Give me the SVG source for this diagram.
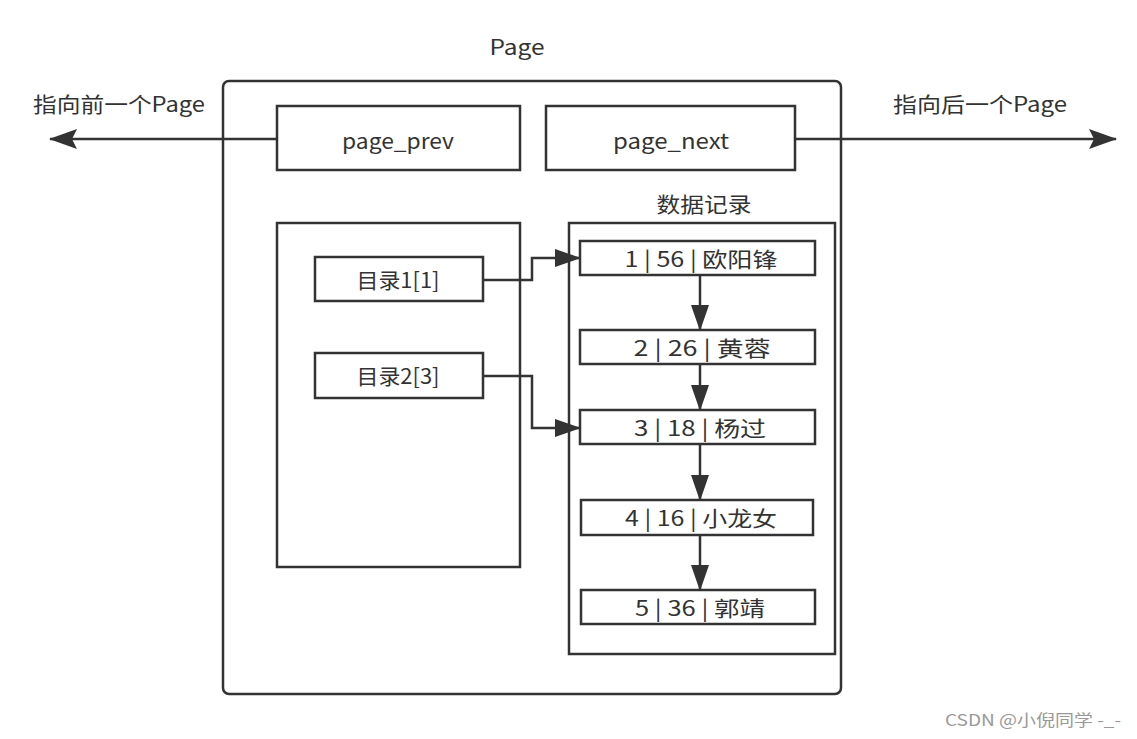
<svg xmlns="http://www.w3.org/2000/svg" width="1137" height="739" viewBox="0 0 1137 739">
<defs>
<style>
.box{fill:#fff;stroke:#333;stroke-width:2.5}
.t{font-family:"Noto Sans CJK SC","Noto Sans",sans-serif;font-size:21px;fill:#333;text-anchor:middle}
.ln{fill:none;stroke:#333;stroke-width:2.5}
.wm{font-family:"Noto Sans CJK SC","Noto Sans",sans-serif;font-size:16px;fill:#999;text-anchor:middle}
</style>
<marker id="big" markerWidth="28" markerHeight="20" refX="27" refY="10" orient="auto" markerUnits="userSpaceOnUse" viewBox="0 0 28 20">
<path d="M0,0 L28,10 L0,20 L5,10 Z" fill="#333"/>
</marker>
<marker id="dn" markerWidth="26" markerHeight="18" refX="25" refY="9" orient="auto" markerUnits="userSpaceOnUse" viewBox="0 0 26 18">
<path d="M0,0 L26,9 L0,18 Z" fill="#333"/>
</marker>
</defs>
<rect width="1137" height="739" fill="#fff"/>
<g id="page">
<rect class="box" x="223" y="81" width="618" height="613" rx="6"/>
<text class="t" x="517" y="55" textLength="55" lengthAdjust="spacingAndGlyphs">Page</text>
</g>
<g id="page_prev">
<rect class="box" x="277" y="106" width="243" height="64"/>
<text class="t" x="398" y="149" textLength="112" lengthAdjust="spacingAndGlyphs">page_prev</text>
</g>
<g id="page_next">
<rect class="box" x="546" y="106" width="249" height="64"/>
<text class="t" x="671" y="149" textLength="116" lengthAdjust="spacingAndGlyphs">page_next</text>
</g>
<g id="dir">
<rect class="box" x="277" y="223" width="243" height="344"/>
</g>
<g id="dir1">
<rect class="box" x="315" y="257" width="168" height="44"/>
<text class="t" x="398" y="288" textLength="83" lengthAdjust="spacingAndGlyphs">目录1[1]</text>
</g>
<g id="dir2">
<rect class="box" x="315" y="353" width="168" height="45"/>
<text class="t" x="398" y="384" textLength="83" lengthAdjust="spacingAndGlyphs">目录2[3]</text>
</g>
<g id="records">
<rect class="box" x="569" y="223" width="266" height="431"/>
<text class="t" x="704" y="212" textLength="95" lengthAdjust="spacingAndGlyphs">数据记录</text>
</g>
<g id="r1"><rect class="box" x="580" y="241" width="235" height="34"/><text class="t" x="701" y="267" textLength="153" lengthAdjust="spacingAndGlyphs">1 | 56 | 欧阳锋</text></g>
<g id="r2"><rect class="box" x="580" y="330" width="235" height="34"/><text class="t" x="702" y="356" textLength="137" lengthAdjust="spacingAndGlyphs">2 | 26 | 黄蓉</text></g>
<g id="r3"><rect class="box" x="580" y="410" width="235" height="34"/><text class="t" x="700" y="436" textLength="132" lengthAdjust="spacingAndGlyphs">3 | 18 | 杨过</text></g>
<g id="r4"><rect class="box" x="581" y="500" width="232" height="35"/><text class="t" x="701" y="526" textLength="152" lengthAdjust="spacingAndGlyphs">4 | 16 | 小龙女</text></g>
<g id="r5"><rect class="box" x="581" y="590" width="234" height="34"/><text class="t" x="700" y="616" textLength="130" lengthAdjust="spacingAndGlyphs">5 | 36 | 郭靖</text></g>
<g id="labels">
<text class="t" x="119" y="112" textLength="172" lengthAdjust="spacingAndGlyphs">指向前一个Page</text>
<text class="t" x="980" y="112" textLength="174" lengthAdjust="spacingAndGlyphs">指向后一个Page</text>
<text class="wm" x="1033" y="726" textLength="176" lengthAdjust="spacingAndGlyphs">CSDN @小倪同学 -_-</text>
</g>
<g id="connectors">
<path class="ln" d="M277,139 H50" marker-end="url(#big)"/>
<path class="ln" d="M795,139 H1116" marker-end="url(#big)"/>
<path class="ln" d="M483,280 H532 V258 H580" marker-end="url(#dn)"/>
<path class="ln" d="M483,376 H532 V428 H580" marker-end="url(#dn)"/>
<path class="ln" d="M700,275 V330" marker-end="url(#dn)"/>
<path class="ln" d="M700,364 V410" marker-end="url(#dn)"/>
<path class="ln" d="M700,444 V500" marker-end="url(#dn)"/>
<path class="ln" d="M700,535 V590" marker-end="url(#dn)"/>
</g>
</svg>
